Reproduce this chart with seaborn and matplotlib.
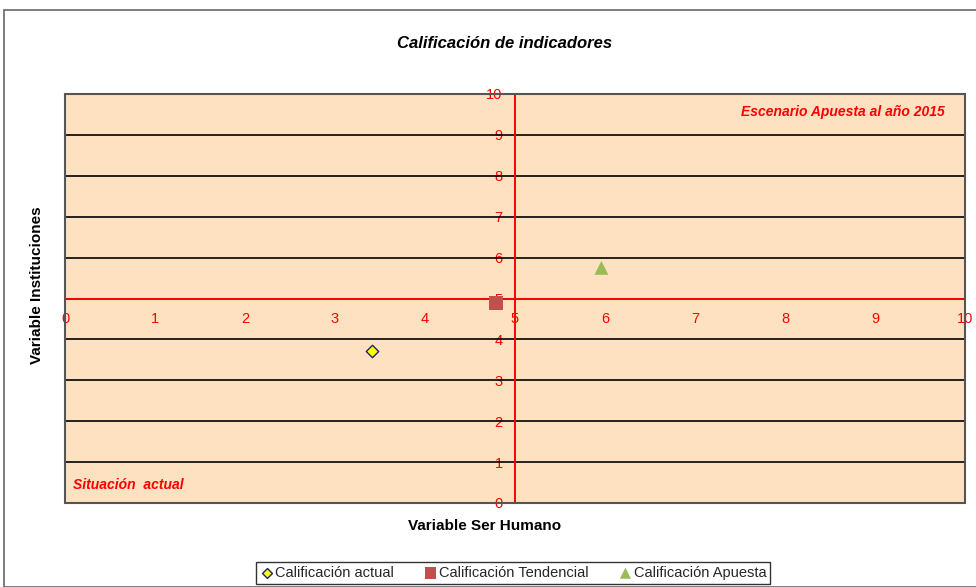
import matplotlib
matplotlib.use("Agg")
import matplotlib.pyplot as plt
import seaborn as sns
import pandas as pd
from matplotlib.patches import Rectangle

series = ["Calificación actual", "Calificación Tendencial", "Calificación Apuesta"]
ser_humano = [3.41, 4.79, 5.96]
instituciones = [3.72, 4.89, 5.75]
ticks = list(range(0, 11))

df = pd.DataFrame({"serie": series, "x": ser_humano, "y": instituciones})

sns.set_theme(style="white")
plt.rcParams["font.family"] = ["Liberation Sans", "DejaVu Sans"]

fig = plt.figure(figsize=(9.76, 5.87), dpi=100)
ax = fig.add_axes([65/976, 1-503/587, 900/976, 409/587])
ax.set_facecolor("#FDE1C1")

ax.set_xlim(0, 10)
ax.set_ylim(0, 10)
for t in ticks:
    ax.axhline(t, color="black", lw=1.2, zorder=1)

markers = {series[0]: "D", series[1]: "s", series[2]: "^"}
palette = {series[0]: "#FFFF00", series[1]: "#C0504D", series[2]: "#9BBB59"}
sizes = {series[0]: 40, series[1]: 110, series[2]: 100}
for s in series:
    sub = df[df["serie"] == s]
    ec = "#1F1F7A" if s == series[0] else "none"
    sns.scatterplot(data=sub, x="x", y="y", ax=ax, marker=markers[s],
                    color=palette[s], s=sizes[s], edgecolor=ec, linewidth=1.0,
                    zorder=5, label=s, legend=False)

for sp in ["top", "right"]:
    ax.spines[sp].set_visible(False)
ax.spines["left"].set_position(("data", 5))
ax.spines["bottom"].set_position(("data", 5))
ax.spines["left"].set_color("#FF0000")
ax.spines["bottom"].set_color("#FF0000")
ax.spines["left"].set_linewidth(1.4)
ax.spines["bottom"].set_linewidth(1.4)
ax.spines["left"].set_zorder(3)
ax.spines["bottom"].set_zorder(3)

ax.set_xticks(ticks)
ax.set_yticks(ticks)
ax.set_xticklabels([str(t) for t in ticks])
ax.set_yticklabels([str(t) for t in ticks])
ax.tick_params(axis="both", colors="#FF0000", labelcolor="#FF0000",
               direction="out", length=4, width=1, labelsize=10.5)
ax.tick_params(axis="x", pad=6)
ax.tick_params(axis="y", pad=5)
ax.set_xlabel("")
ax.set_ylabel("")

ax.add_patch(Rectangle((0, 0), 1, 1, transform=ax.transAxes, fill=False,
                       edgecolor="#555555", lw=1.5, zorder=6, clip_on=False))

ax.text(0.978, 0.955, "Escenario Apuesta al año 2015", transform=ax.transAxes,
        ha="right", va="center", color="#FF0000", fontsize=10,
        fontweight="bold", fontstyle="italic")
ax.text(0.009, 0.045, "Situación  actual", transform=ax.transAxes,
        ha="left", va="center", color="#FF0000", fontsize=10,
        fontweight="bold", fontstyle="italic")

fig.text(505/976, 1-43/587, "Calificación de indicadores", ha="center",
         va="center", fontsize=12, fontweight="bold", fontstyle="italic",
         color="black")
fig.text(485/976, 1-526/587, "Variable Ser Humano", ha="center", va="center",
         fontsize=11, fontweight="bold", color="black")
fig.text(37/976, 1-285/587, "Variable Instituciones", ha="center", va="center",
         rotation=90, fontsize=11, fontweight="bold", color="black")

handles, labels = ax.get_legend_handles_labels()
leg = fig.legend(handles, labels, loc="center", bbox_to_anchor=(513/976, 1-573/587),
                 ncol=3, frameon=True, fontsize=10.5, handletextpad=0.1,
                 columnspacing=2.0, borderpad=0.25, handlelength=1.0,
                 fancybox=False, markerscale=0.8)
leg.get_frame().set_edgecolor("black")
leg.get_frame().set_linewidth(1.0)

fig.patches.append(Rectangle((4/976, 0), 1.0, 1-10/587, transform=fig.transFigure,
                             fill=False, edgecolor="#666666", lw=1.2))

fig.savefig("out.png", dpi=100)
